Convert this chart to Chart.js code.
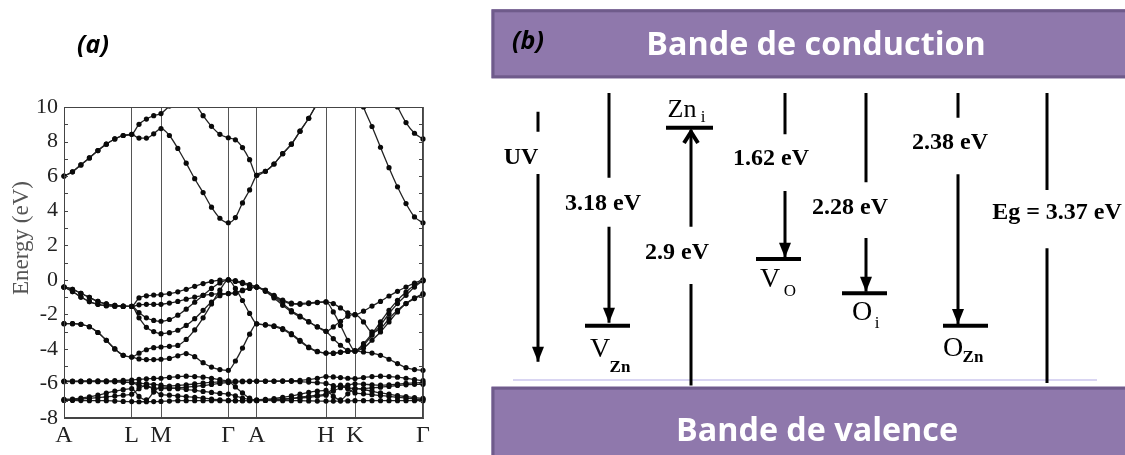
<!DOCTYPE html>
<html><head><meta charset="utf-8">
<script src="https://cdn.jsdelivr.net/npm/chart.js@4.4.1/dist/chart.umd.min.js"></script>
<style>
html,body{margin:0;padding:0;background:#fff;width:1125px;height:455px;overflow:hidden}
#wa{position:absolute;left:0;top:0;width:460px;height:455px}
#wb{position:absolute;left:460px;top:0;width:665px;height:455px}
</style></head><body>
<div id="wa"><canvas id="ca"></canvas></div>
<div id="wb"><canvas id="cb"></canvas></div>
<script>
// ---------- Panel (a): band structure data ----------
const kLabels = ['A','L','M','Γ','A','H','K','Γ'];
const kSymPoints = [0, 67.7, 97.0, 164.3, 192.7, 262.0, 291.0, 359.0];
const kPath = [0, 8.5, 16.9, 25.4, 33.9, 42.3, 50.8, 59.2, 67.7,
  75.0, 82.4, 89.7, 97.0,
  105.4, 113.8, 122.2, 130.7, 139.1, 147.5, 155.9, 164.3,
  171.4, 178.5, 185.6, 192.7,
  201.4, 210.0, 218.7, 227.4, 236.0, 244.7, 253.3, 262.0,
  269.3, 276.5, 283.8, 291.0,
  299.5, 308.0, 316.5, 325.0, 333.5, 342.0, 350.5, 359.0];
const yTickLabels = [-8,-6,-4,-2,0,2,4,6,8,10];
const yAxisTitle = 'Energy (eV)';

// conduction bands
const cb1 = [6.0,6.25,6.65,7.05,7.48,7.85,8.15,8.35,8.42, 8.2,8.2,8.45,8.75,
  8.35,7.6,6.75,5.85,5.05,4.2,3.56,3.3, 3.6,4.45,5.2,6.05,
  6.28,6.7,7.3,7.85,8.6,9.35,10.2,10.9, 11.4,11.8,11.9,11.6,
  10.0,8.87,7.67,6.49,5.38,4.41,3.64,3.3];
const cb2 = [6.0,6.25,6.65,7.05,7.48,7.85,8.15,8.35,8.42, 9.0,9.3,9.5,9.62,
  10.05,10.4,10.5,10.2,9.5,8.88,8.42,8.22, 8.1,7.65,6.95,6.05,
  6.28,6.7,7.3,7.85,8.6,9.35,10.2,10.9, 11.4,11.8,11.9,12.0,
  12.0,11.7,11.3,10.8,10.0,9.1,8.48,8.15];
// upper valence bands
const vb1 = [-0.42,-0.55,-0.78,-1.02,-1.25,-1.4,-1.48,-1.52,-1.54, -1.05,-0.93,-0.88,-0.86,
  -0.8,-0.7,-0.55,-0.38,-0.22,-0.1,-0.02,0.0, -0.05,-0.15,-0.28,-0.42,
  -0.6,-0.9,-1.18,-1.35,-1.38,-1.34,-1.3,-1.28, -1.38,-1.63,-1.92,-2.02,
  -1.82,-1.52,-1.25,-0.94,-0.67,-0.42,-0.19,0.0];
const vb2 = [-0.42,-0.55,-0.78,-1.02,-1.25,-1.4,-1.48,-1.52,-1.54, -1.45,-1.42,-1.42,-1.42,
  -1.35,-1.25,-1.12,-1.0,-0.9,-0.84,-0.8,-0.8, -0.78,-0.63,-0.5,-0.42,
  -0.67,-1.05,-1.48,-1.86,-2.15,-2.44,-2.73,-2.98, -2.73,-2.4,-2.11,-2.02,
  -2.44,-3.02,-2.83,-2.25,-1.77,-1.38,-1.09,-0.85];
const vb3 = [-0.42,-0.68,-1.0,-1.26,-1.42,-1.5,-1.53,-1.54,-1.54, -1.9,-2.2,-2.35,-2.4,
  -2.3,-2.05,-1.7,-1.3,-0.9,-0.5,-0.18,0.0, -0.1,-0.22,-0.33,-0.42,
  -0.62,-0.95,-1.38,-1.78,-2.1,-2.42,-2.72,-2.98, -3.41,-3.79,-4.08,-4.12,
  -3.79,-3.21,-2.64,-1.96,-1.38,-0.9,-0.42,-0.05];
const vb4 = [-0.42,-0.68,-1.0,-1.26,-1.42,-1.5,-1.53,-1.54,-1.54, -2.2,-2.75,-3.0,-3.12,
  -3.06,-2.92,-2.64,-2.25,-1.77,-1.29,-0.92,-0.8, -0.75,-0.6,-0.48,-0.42,
  -0.63,-0.95,-1.22,-1.4,-1.42,-1.38,-1.32,-1.28, -1.86,-2.64,-3.5,-4.12,
  -3.95,-3.5,-3.02,-2.44,-1.86,-1.38,-1.05,-0.8];
const vb5 = [-2.54,-2.54,-2.58,-2.72,-3.05,-3.5,-4.0,-4.37,-4.47, -4.25,-4.05,-3.93,-3.89,
  -3.85,-3.8,-3.45,-2.9,-2.2,-1.4,-0.6,0.0, -0.5,-1.2,-1.95,-2.55,
  -2.6,-2.67,-2.83,-3.12,-3.5,-3.89,-4.14,-4.24, -4.24,-4.18,-4.14,-4.12,
  -4.18,-4.24,-4.37,-4.6,-4.85,-5.09,-5.2,-5.24];
const vb6 = [-2.54,-2.54,-2.58,-2.72,-3.05,-3.5,-4.0,-4.37,-4.47, -4.58,-4.62,-4.62,-4.6,
  -4.55,-4.4,-4.27,-4.45,-4.8,-5.05,-5.2,-5.24, -4.7,-3.95,-3.15,-2.55,
  -2.62,-2.7,-2.88,-3.18,-3.56,-3.93,-4.16,-4.24, -4.26,-4.2,-4.15,-4.12,
  -3.7,-3.12,-2.44,-1.77,-1.19,-0.71,-0.32,-0.05];
// Zn 3d bands
const d1 = [-5.86,-5.86,-5.86,-5.85,-5.85,-5.85,-5.84,-5.82,-5.8, -5.76,-5.73,-5.71,-5.7,
  -5.65,-5.6,-5.58,-5.6,-5.64,-5.7,-5.78,-5.85, -5.86,-5.86,-5.86,-5.86,
  -5.86,-5.86,-5.85,-5.84,-5.82,-5.78,-5.7,-5.6, -5.62,-5.66,-5.7,-5.72,
  -5.66,-5.6,-5.58,-5.6,-5.64,-5.7,-5.78,-5.84];
const d2 = [-5.9,-5.9,-5.9,-5.9,-5.9,-5.9,-5.9,-5.92,-5.95, -5.98,-6.02,-6.06,-6.1,
  -6.15,-6.12,-6.08,-6.03,-5.98,-5.94,-5.91,-5.9, -6.2,-6.55,-6.85,-7.0,
  -6.98,-6.96,-6.93,-6.88,-6.84,-6.8,-6.74,-6.68, -6.45,-6.25,-6.1,-6.02,
  -6.04,-6.08,-6.1,-6.08,-6.04,-6.0,-5.97,-5.95];
const d3 = [-6.92,-6.9,-6.85,-6.78,-6.68,-6.56,-6.45,-6.36,-6.3, -6.75,-6.95,-6.5,-6.2,
  -6.24,-6.3,-6.35,-6.4,-6.46,-6.52,-6.58,-6.62, -6.72,-6.85,-6.93,-6.95,
  -6.92,-6.88,-6.8,-6.72,-6.62,-6.52,-6.45,-6.4, -6.75,-6.95,-6.6,-6.3,
  -6.35,-6.45,-6.55,-6.62,-6.7,-6.76,-6.82,-6.86];
const d4 = [-6.98,-6.98,-6.99,-7.0,-7.0,-7.0,-7.02,-7.04,-7.05, -7.06,-7.06,-7.05,-7.04,
  -7.02,-7.0,-7.0,-7.0,-7.0,-7.0,-7.0,-7.0, -7.0,-7.0,-7.0,-6.98,
  -6.98,-6.99,-7.0,-7.0,-7.0,-7.01,-7.02,-7.02, -7.02,-7.02,-7.01,-7.0,
  -7.0,-7.0,-7.0,-7.0,-7.0,-7.0,-7.0,-7.0];
const d5 = [-6.96,-6.94,-6.9,-6.86,-6.82,-6.78,-6.73,-6.68,-6.62, -6.3,-6.1,-6.35,-6.65,
  -6.68,-6.72,-6.76,-6.8,-6.85,-6.9,-6.95,-6.98, -7.0,-7.0,-6.99,-6.98,
  -6.96,-6.93,-6.9,-6.86,-6.8,-6.74,-6.68,-6.62, -6.3,-6.1,-6.3,-6.55,
  -6.6,-6.65,-6.7,-6.75,-6.8,-6.85,-6.9,-6.92];
const d6 = [-5.88,-5.88,-5.88,-5.88,-5.88,-5.88,-5.89,-5.92,-5.96, -6.1,-6.2,-6.26,-6.3,
  -6.3,-6.26,-6.22,-6.17,-6.12,-6.06,-6.0,-5.95, -5.92,-5.9,-5.89,-5.88,
  -5.88,-5.88,-5.88,-5.88,-5.9,-5.92,-5.96,-6.0, -6.12,-6.2,-6.26,-6.3,
  -6.3,-6.26,-6.22,-6.17,-6.12,-6.08,-6.05,-6.05];
const bandList = [cb1, cb2, vb1, vb2, vb3, vb4, vb5, vb6, d1, d2, d3, d4, d5, d6];

// ---------- Panel (b): defect level diagram data ----------
const transitionText = ['UV','3.18 eV','2.9 eV','1.62 eV','2.28 eV','2.38 eV','Eg = 3.37 eV'];
const transitionDir  = ['down','down','up','down','down','down','none'];
const lineTop    = [3.153, 3.37, 2.94, 3.37, 3.37, 3.37, 3.37];   // eV (diagram)
const gapTop     = [2.921, 2.386, 1.816, 2.89, 2.332, 3.083, 2.243];
const gapBottom  = [2.429, 1.816, 1.15, 2.231, 1.685, 2.425, 1.565];
const lineBottom = [0.248, 0.70, -0.03, 1.455, 1.06, 0.685, 0.0];
const textEnergy = [2.63, 2.09, 1.53, 2.615, 2.05, 2.80, 1.99];
const levelEnergy = [null, 0.666, 2.967, 1.441, 1.042, 0.666, null];
const levelMain = [null, 'V', 'Zn', 'V', 'O', 'O', null];
const levelSub  = [null, 'Zn', 'i', 'O', 'i', 'Zn', null];
const bandNames = ['Bande de conduction', 'Bande de valence'];
const conductionBox = [3.541, 4.343];
const valenceBox = [-0.9, -0.043];
const bandEdgeLine = 0.035;

// layout (page pixel positions)
const colX   = [538, 609, 691, 785, 866, 958, 1047];
const textX  = [521, 603, 677, 771, 850, 950, 1057];
const levelL = [0, -24, -25, -29, -24, -15, 0];
const levelR = [0, 21, 22, 16, 21, 30, 0];
const mainDX = [0, -9, -9, -15, -4, -5, 0];
const mainDY = [0, 24, -18, 21, 19, 23, 0];
const subDX  = [0, 11, 12, 5, 11, 15, 0];
const subDY  = [0, 42, -10, 33, 30, 32, 0];

// ---------- Panel (a) chart ----------
const frameA = {
  id:'frameA',
  afterDatasetsDraw(chart){
    const {ctx, chartArea:a, scales:{y}} = chart;
    ctx.save();
    ctx.strokeStyle = '#444'; ctx.lineWidth = 1;
    ctx.strokeRect(a.left+0.5, a.top+0.5, a.right-a.left-1, a.bottom-a.top-1);
    ctx.beginPath();
    for (let v = y.min; v <= y.max; v += 1) {
      const py = Math.round(y.getPixelForValue(v)) + 0.5;
      ctx.moveTo(a.left, py); ctx.lineTo(a.left + 4, py);
      ctx.moveTo(a.right, py); ctx.lineTo(a.right - 4, py);
    }
    ctx.stroke();
    // y axis title
    ctx.fillStyle = '#555';
    ctx.font = '23px "Liberation Serif"';
    ctx.textAlign = 'center'; ctx.textBaseline = 'middle';
    ctx.translate(22, 238); ctx.rotate(-Math.PI / 2);
    ctx.fillText(yAxisTitle, 0, 0);
    ctx.setTransform(1, 0, 0, 1, 0, 0);
    ctx.restore();
    ctx.save();
    ctx.fillStyle = '#000';
    ctx.font = 'italic bold 25px "Open Sans"';
    ctx.textAlign = 'center'; ctx.textBaseline = 'middle';
    ctx.fillText('(a)', 93, 46);
    ctx.restore();
  }
};

new Chart(document.getElementById('ca'), {
  type: 'line',
  data: {
    datasets: bandList.map(vals => ({
      data: kPath.map((k, i) => ({x: k, y: vals[i]})),
      borderColor: '#222', borderWidth: 1.3,
      pointRadius: 2.6, pointBackgroundColor: '#0a0a0a', pointBorderWidth: 0,
      pointHoverRadius: 0,
      cubicInterpolationMode: 'monotone',
      clip: {left: 3, right: 3, top: 0, bottom: 0}
    }))
  },
  options: {
    responsive: true, maintainAspectRatio: false, animation: false, events: [],
    devicePixelRatio: 1,
    layout: {padding: {left: 0, right: 37, top: 107, bottom: 0}},
    plugins: {legend: {display: false}, tooltip: {enabled: false}},
    scales: {
      x: {
        type: 'linear', min: 0, max: 359,
        afterBuildTicks: s => { s.ticks = kSymPoints.map(v => ({value: v})); },
        afterFit: s => { s.height = 37; },
        ticks: {callback: (v, i) => kLabels[i], autoSkip: false, maxRotation: 0,
          font: {family: '"Liberation Serif"', size: 24}, color: '#222', padding: 3},
        grid: {color: '#555', lineWidth: 1, drawTicks: false},
        border: {color: '#444'}
      },
      y: {
        min: -8, max: 10,
        afterBuildTicks: s => { s.ticks = yTickLabels.map(v => ({value: v})); },
        afterFit: s => { s.width = 64; },
        ticks: {font: {family: '"Liberation Serif"', size: 22}, color: '#222', padding: 6},
        grid: {display: false, drawTicks: false},
        border: {color: '#444'}
      }
    }
  },
  plugins: [frameA]
});

// ---------- Panel (b) chart ----------
const diagramDatasets = [];
colX.forEach((x, i) => {
  diagramDatasets.push({data: [{x, y: lineTop[i]}, {x, y: gapTop[i]}]});
  diagramDatasets.push({data: [{x, y: gapBottom[i]}, {x, y: lineBottom[i]}]});
  if (levelEnergy[i] !== null) {
    diagramDatasets.push({data: [{x: x + levelL[i], y: levelEnergy[i]}, {x: x + levelR[i], y: levelEnergy[i]}], borderWidth: 4});
  }
});
diagramDatasets.push({data: [{x: 513, y: bandEdgeLine}, {x: 1097, y: bandEdgeLine}], borderColor: '#cdc7ee', borderWidth: 1.5});

const diagramPlugin = {
  id: 'diagram',
  beforeDatasetsDraw(chart){
    const {ctx, scales:{x, y}} = chart;
    ctx.save();
    const left = x.getPixelForValue(491.5), right = x.getPixelForValue(1130);
    [conductionBox, valenceBox].forEach(b => {
      const t = y.getPixelForValue(b[1]), bt = y.getPixelForValue(b[0]);
      ctx.fillStyle = '#8f78ac';
      ctx.fillRect(left, t, right - left, bt - t);
      ctx.strokeStyle = '#6f5b8b'; ctx.lineWidth = 3;
      ctx.strokeRect(left + 1.5, t + 1.5, right - left, bt - t - 3);
    });
    ctx.restore();
  },
  afterDatasetsDraw(chart){
    const {ctx, scales:{x, y}} = chart;
    ctx.save();
    ctx.fillStyle = '#000'; ctx.strokeStyle = '#000';
    // arrowheads
    colX.forEach((cx, i) => {
      const px = x.getPixelForValue(cx);
      if (transitionDir[i] === 'down') {
        const tip = y.getPixelForValue(lineBottom[i]);
        ctx.beginPath(); ctx.moveTo(px, tip); ctx.lineTo(px - 6, tip - 15); ctx.lineTo(px + 6, tip - 15); ctx.closePath(); ctx.fill();
      } else if (transitionDir[i] === 'up') {
        const tip = y.getPixelForValue(lineTop[i]);
        ctx.lineWidth = 4; ctx.lineJoin = 'miter';
        ctx.beginPath(); ctx.moveTo(px - 7, tip + 13); ctx.lineTo(px, tip + 2); ctx.lineTo(px + 7, tip + 13); ctx.stroke();
      }
    });
    // transition labels
    ctx.font = 'bold 24px "Liberation Serif"';
    ctx.textAlign = 'center'; ctx.textBaseline = 'middle';
    transitionText.forEach((t, i) => {
      ctx.fillText(t, x.getPixelForValue(textX[i]), y.getPixelForValue(textEnergy[i]) + 1);
    });
    // defect level labels
    levelMain.forEach((m, i) => {
      if (!m) return;
      const px = x.getPixelForValue(colX[i]), py = y.getPixelForValue(levelEnergy[i]);
      ctx.font = (m === 'Zn' ? '26px' : '28px') + ' "Liberation Serif"';
      ctx.fillText(m, px + mainDX[i], py + mainDY[i]);
      ctx.font = (levelSub[i] === 'Zn' ? 'bold 17px' : '17px') + ' "Liberation Serif"';
      ctx.fillText(levelSub[i], px + subDX[i], py + subDY[i]);
    });
    // band names
    ctx.fillStyle = '#fff';
    const names = [[bandNames[0], 816, 45, 339], [bandNames[1], 817, 431, 282]];
    names.forEach(([txt, cx, cy, w]) => {
      ctx.font = 'bold 30px "Open Sans"';
      const mw = ctx.measureText(txt).width;
      const size = 30 * w / mw;
      ctx.font = 'bold ' + size.toFixed(1) + 'px "Open Sans"';
      ctx.fillText(txt, x.getPixelForValue(cx), cy + 1);
    });
    // panel label
    ctx.fillStyle = '#000';
    ctx.font = 'italic bold 25px "Open Sans"';
    ctx.fillText('(b)', x.getPixelForValue(528), 42);
    ctx.restore();
  }
};

new Chart(document.getElementById('cb'), {
  type: 'line',
  data: {datasets: diagramDatasets.map(d => Object.assign({
    borderColor: '#000', borderWidth: 3, pointRadius: 0, pointHoverRadius: 0, clip: false
  }, d))},
  options: {
    responsive: true, maintainAspectRatio: false, animation: false, events: [],
    devicePixelRatio: 1,
    layout: {padding: 0},
    plugins: {legend: {display: false}, tooltip: {enabled: false}},
    scales: {
      x: {type: 'linear', display: false, min: 460, max: 1125},
      y: {type: 'linear', display: false, min: -0.837, max: 4.451}
    }
  },
  plugins: [diagramPlugin]
});
</script>
</body></html>
